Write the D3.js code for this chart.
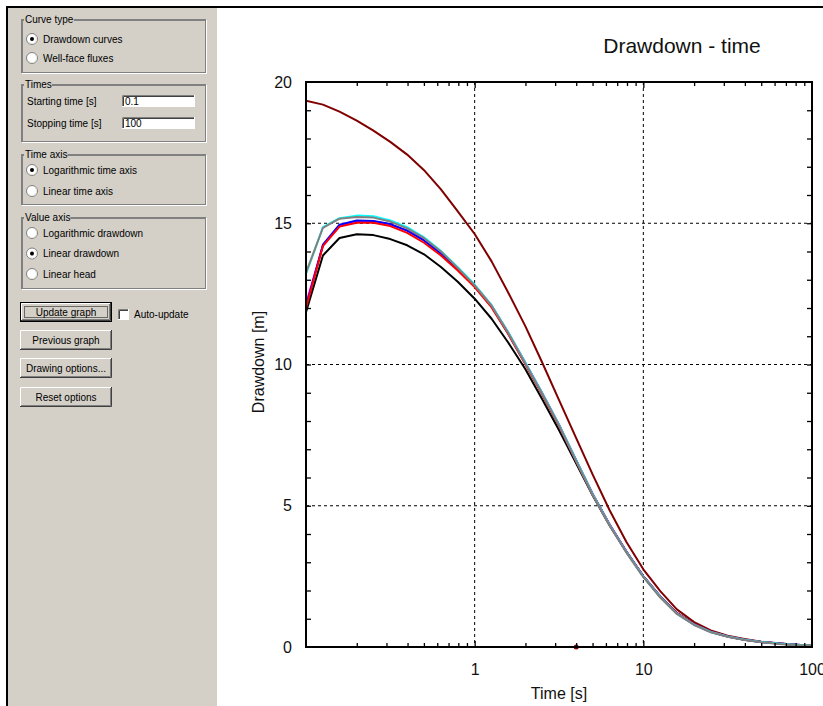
<!DOCTYPE html>
<html lang="en">
<head>
<meta charset="UTF-8">
<title>Drawdown - time</title>
<script src="https://d3js.org/d3.v7.min.js"></script>
<style>
    body { margin: 0; background: #fff; }
    svg { display: block; }
    .ui text { font-family: "Liberation Sans", Arial, sans-serif; font-size: 10px; fill: #000; }
    .chart text { font-family: "Liberation Sans", Arial, sans-serif; fill: #111; }
    .grid line { stroke: #000; stroke-width: 1; stroke-dasharray: 3,3; }
    .curve { fill: none; stroke-width: 2px; stroke-linejoin: round; }
</style>
</head>
<body>
<svg width="823" height="706"></svg>
<script>
// ---- data ----
const times = [0.1, 0.126, 0.158, 0.2, 0.251, 0.316, 0.398, 0.501, 0.631, 0.794,
               1, 1.26, 1.58, 2, 2.51, 3.16, 3.98, 5.01, 6.31, 7.94,
               10, 12.6, 15.8, 20, 25.1, 31.6, 39.8, 50.1, 63.1, 79.4, 100];

const darkRedSeries = [19.34, 19.2, 18.95, 18.63, 18.28, 17.88, 17.43, 16.88, 16.2, 15.42,
                       14.62, 13.65, 12.55, 11.35, 10.08, 8.75, 7.42, 6.1, 4.84, 3.72,
                       2.75, 1.98, 1.33, 0.88, 0.59, 0.4, 0.28, 0.19, 0.13, 0.08, 0.05];
const blackSeries   = [11.85, 13.86, 14.48, 14.61, 14.58, 14.44, 14.22, 13.9, 13.45, 12.93,
                       12.33, 11.62, 10.78, 9.83, 8.78, 7.68, 6.52, 5.36, 4.3, 3.37,
                       2.5, 1.78, 1.2, 0.8, 0.54, 0.37, 0.26, 0.18, 0.12, 0.08, 0.05];
const redSeries     = [12.0, 14.2, 14.88, 15.02, 15.02, 14.9, 14.66, 14.31, 13.86, 13.33,
                       12.74, 12.02, 11.08, 10.0, 8.95, 7.83, 6.6, 5.4, 4.32, 3.36,
                       2.5, 1.78, 1.2, 0.8, 0.54, 0.37, 0.26, 0.18, 0.12, 0.08, 0.05];
const blueSeries    = [12.05, 14.24, 14.95, 15.1, 15.08, 14.97, 14.74, 14.39, 13.92, 13.37,
                       12.77, 12.05, 11.1, 10.03, 8.97, 7.85, 6.62, 5.41, 4.33, 3.37,
                       2.5, 1.78, 1.2, 0.8, 0.54, 0.37, 0.26, 0.18, 0.12, 0.08, 0.05];
const magentaSeries = [12.15, 14.2, 14.9, 15.08, 15.07, 14.96, 14.74, 14.4, 13.94, 13.4,
                       12.8, 12.08, 11.13, 10.06, 9.0, 7.88, 6.64, 5.42, 4.34, 3.38,
                       2.51, 1.79, 1.2, 0.8, 0.54, 0.37, 0.26, 0.18, 0.12, 0.08, 0.05];
const cyanSeries    = [13.2, 14.86, 15.18, 15.27, 15.25, 15.1, 14.86, 14.5, 14.02, 13.44,
                       12.83, 12.1, 11.15, 10.06, 9.0, 7.88, 6.64, 5.41, 4.32, 3.36,
                       2.49, 1.77, 1.18, 0.79, 0.53, 0.37, 0.26, 0.18, 0.12, 0.08, 0.05];
const graySeries    = [13.25, 14.84, 15.16, 15.22, 15.2, 15.06, 14.82, 14.47, 14.0, 13.42,
                       12.8, 12.08, 11.12, 10.03, 8.97, 7.85, 6.6, 5.38, 4.3, 3.34,
                       2.47, 1.75, 1.17, 0.78, 0.52, 0.36, 0.25, 0.17, 0.11, 0.07, 0.05];

const markerPoint = { t: 4, s: 0 };

const yLabelTicks = [0, 5, 10, 15, 20];
const yMinorTicks = d3.range(1, 20);
const yGridTicks = [5, 10, 15];
const xLabelTicks = [1, 10, 100];
const xGridTicks = [1, 10];

// ---- panel texts ----
const curveTypeOptions = ["Drawdown curves", "Well-face fluxes"];
const timeAxisOptions = ["Logarithmic time axis", "Linear time axis"];
const valueAxisOptions = ["Logarithmic drawdown", "Linear drawdown", "Linear head"];
const timeFields = [["Starting time [s]", "0.1"], ["Stopping time [s]", "100"]];
const buttonLabels = ["Update graph", "Previous graph", "Drawing options...", "Reset options"];

const svg = d3.select("svg");

// ================= left control panel =================
const ui = svg.append("g").attr("class", "ui");
const face = "#d4d0c8";

ui.append("rect").attr("x", 8).attr("y", 8).attr("width", 209).attr("height", 698).attr("fill", face);
svg.append("rect").attr("x", 6).attr("y", 6).attr("width", 817).attr("height", 2).attr("fill", "#000");
svg.append("rect").attr("x", 6).attr("y", 6).attr("width", 2).attr("height", 700).attr("fill", "#000");

function groupBox(x, y, w, h, title) {
    const g = ui.append("g");
    g.append("rect").attr("x", x + 0.5).attr("y", y + 0.5).attr("width", w).attr("height", h)
        .attr("fill", "none").attr("stroke", "#808080");
    g.append("rect").attr("x", x + 1.5).attr("y", y + 1.5).attr("width", w).attr("height", h)
        .attr("fill", "none").attr("stroke", "#fff");
    g.append("rect").attr("x", x + 1.5).attr("y", y + 1.5).attr("width", w - 1).attr("height", h - 1)
        .attr("fill", "none").attr("stroke", "#808080");
    const t = g.append("text").attr("x", x + 4).attr("y", y + 4).text(title);
    const bb = t.node().getBBox();
    g.insert("rect", "text").attr("x", bb.x - 1).attr("y", y - 1).attr("width", bb.width + 1)
        .attr("height", 5).attr("fill", face);
}

function radio(cx, cy, label, checked) {
    const g = ui.append("g");
    g.append("circle").attr("cx", cx).attr("cy", cy).attr("r", 5.5).attr("fill", "#fff")
        .attr("stroke", "#808080");
    g.append("path").attr("d", d3.arc()({ innerRadius: 4, outerRadius: 5, startAngle: Math.PI * 0.25, endAngle: Math.PI * 1.25 }))
        .attr("transform", `translate(${cx},${cy})`).attr("fill", "#e8e6e0");
    if (checked) {
        g.append("circle").attr("cx", cx).attr("cy", cy).attr("r", 2).attr("fill", "#000");
    }
    g.append("text").attr("x", cx + 11).attr("y", cy).attr("dy", "0.35em").text(label);
}

function sunkenBox(x, y, w, h) {
    ui.append("rect").attr("x", x).attr("y", y).attr("width", w).attr("height", h).attr("fill", "#fff");
    ui.append("path").attr("d", `M${x + 0.5},${y + h}V${y + 0.5}H${x + w}`).attr("fill", "none").attr("stroke", "#808080");
    ui.append("path").attr("d", `M${x + 1.5},${y + h - 1}V${y + 1.5}H${x + w - 1}`).attr("fill", "none").attr("stroke", "#404040");
    ui.append("path").attr("d", `M${x},${y + h - 0.5}H${x + w - 0.5}V${y}`).attr("fill", "none").attr("stroke", "#fff");
}

function button(x, y, w, h, label, isDefault) {
    const g = ui.append("g");
    g.append("rect").attr("x", x).attr("y", y).attr("width", w).attr("height", h).attr("fill", face);
    let o = 0;
    if (isDefault) {
        g.append("rect").attr("x", x + 0.5).attr("y", y + 0.5).attr("width", w - 1).attr("height", h - 1)
            .attr("fill", "none").attr("stroke", "#000");
        o = 1;
    }
    g.append("path").attr("d", `M${x + o + 0.5},${y + h - o - 1}V${y + o + 0.5}H${x + w - o - 1}`)
        .attr("fill", "none").attr("stroke", "#fff");
    g.append("path").attr("d", `M${x + o},${y + h - o - 0.5}H${x + w - o - 0.5}V${y + o}`)
        .attr("fill", "none").attr("stroke", "#404040");
    g.append("path").attr("d", `M${x + o + 1},${y + h - o - 1.5}H${x + w - o - 1.5}V${y + o + 1}`)
        .attr("fill", "none").attr("stroke", "#808080");
    if (isDefault) {
        g.append("rect").attr("x", x + 4.5).attr("y", y + 4.5).attr("width", w - 9).attr("height", h - 9)
            .attr("fill", "none").attr("stroke", "#000").attr("stroke-dasharray", "1,1");
    }
    g.append("text").attr("x", x + w / 2).attr("y", y + h / 2).attr("dy", "0.35em")
        .attr("text-anchor", "middle").text(label);
}

groupBox(21, 19, 184, 53, "Curve type");
curveTypeOptions.forEach((d, i) => radio(32, 39 + i * 19, d, i === 0));

groupBox(21, 84, 184, 57, "Times");
timeFields.forEach((d, i) => {
    const yy = 95 + i * 22;
    ui.append("text").attr("x", 27).attr("y", yy + 6).attr("dy", "0.35em").text(d[0]);
    sunkenBox(122, yy, 73, 12);
    ui.append("text").attr("x", 125).attr("y", yy + 6).attr("dy", "0.35em").text(d[1]);
});

groupBox(21, 154, 184, 50, "Time axis");
timeAxisOptions.forEach((d, i) => radio(32, 170 + i * 21, d, i === 0));

groupBox(21, 217, 184, 71, "Value axis");
valueAxisOptions.forEach((d, i) => radio(32, 233 + i * 20.5, d, i === 1));

const buttonTops = [302, 330, 358, 387];
buttonLabels.forEach((d, i) => button(20, buttonTops[i], 92, 20, d, i === 0));

sunkenBox(118, 309, 11, 11);
ui.append("text").attr("x", 134).attr("y", 314).attr("dy", "0.35em").text("Auto-update");

// ================= chart =================
const chart = svg.append("g").attr("class", "chart");
const plot = { left: 306, right: 812, top: 82, bottom: 647 };

const x = d3.scaleLog().domain([0.1, 100]).range([plot.left, plot.right]);
const y = d3.scaleLinear().domain([0, 20]).range([plot.bottom, plot.top]);

chart.append("text").attr("x", 682).attr("y", 53).attr("text-anchor", "middle")
    .style("font-size", "21px").text("Drawdown - time");

chart.append("defs").append("clipPath").attr("id", "plotClip")
    .append("rect").attr("x", plot.left).attr("y", plot.top)
    .attr("width", plot.right - plot.left).attr("height", plot.bottom - plot.top);

// grid
const grid = chart.append("g").attr("class", "grid");
grid.selectAll(".vg").data(xGridTicks).join("line")
    .attr("x1", d => x(d)).attr("x2", d => x(d)).attr("y1", plot.top).attr("y2", plot.bottom);
grid.selectAll(".hg").data(yGridTicks).join("line").attr("class", "hg")
    .attr("y1", d => y(d)).attr("y2", d => y(d)).attr("x1", plot.left).attr("x2", plot.right);

// curves
const line = d3.line().x((d, i) => x(times[i])).y(d => y(d));
const curves = [
    [blackSeries, "#000000"],
    [darkRedSeries, "#800000"],
    [magentaSeries, "#ff00ff"],
    [blueSeries, "#0000ff"],
    [redSeries, "#ff0000"],
    [cyanSeries, "#00ffff"],
    [graySeries, "#808080"]
];
const curveG = chart.append("g").attr("clip-path", "url(#plotClip)");
curveG.selectAll("path").data(curves).join("path")
    .attr("class", "curve")
    .attr("stroke", d => d[1])
    .attr("d", d => line(d[0]));

chart.append("circle").attr("cx", x(markerPoint.t)).attr("cy", y(markerPoint.s))
    .attr("r", 2.5).attr("fill", "#800000");

// minor / inward ticks
const xMinor = x.ticks().filter(d => xLabelTicks.indexOf(d) < 0 && d > 0.1 && d < 100);
function styleTicks(g) {
    g.select(".domain").remove();
    g.selectAll("line").attr("stroke", "#000").attr("stroke-width", 1.3);
    g.selectAll("text").remove();
}
chart.append("g").attr("transform", `translate(0,${plot.bottom})`)
    .call(d3.axisTop(x).tickValues(xMinor).tickSize(4)).call(styleTicks);
chart.append("g").attr("transform", `translate(0,${plot.bottom})`)
    .call(d3.axisTop(x).tickValues(xGridTicks).tickSize(6)).call(styleTicks);
chart.append("g").attr("transform", `translate(0,${plot.top})`)
    .call(d3.axisBottom(x).tickValues(xMinor).tickSize(4)).call(styleTicks);
chart.append("g").attr("transform", `translate(0,${plot.top})`)
    .call(d3.axisBottom(x).tickValues(xGridTicks).tickSize(6)).call(styleTicks);
chart.append("g").attr("transform", `translate(${plot.left},0)`)
    .call(d3.axisRight(y).tickValues(yMinorTicks).tickSize(5)).call(styleTicks);
chart.append("g").attr("transform", `translate(${plot.right},0)`)
    .call(d3.axisLeft(y).tickValues(yMinorTicks).tickSize(5)).call(styleTicks);

// frame
chart.append("rect").attr("x", plot.left).attr("y", plot.top)
    .attr("width", plot.right - plot.left).attr("height", plot.bottom - plot.top)
    .attr("fill", "none").attr("stroke", "#000").attr("stroke-width", 2);

// tick labels
function styleLabels(g) {
    g.select(".domain").remove();
    g.selectAll("line").remove();
    g.selectAll("text").style("font-size", "16px").attr("fill", "#111");
}
chart.append("g").attr("transform", `translate(${plot.left},0)`)
    .call(d3.axisLeft(y).tickValues(yLabelTicks).tickSize(0).tickPadding(14).tickFormat(d3.format("d")))
    .call(styleLabels);
chart.append("g").attr("transform", `translate(0,${plot.bottom})`)
    .call(d3.axisBottom(x).tickValues(xLabelTicks).tickSize(0).tickPadding(17).tickFormat(d3.format("d")))
    .call(styleLabels);

// axis titles
chart.append("text").attr("x", (plot.left + plot.right) / 2).attr("y", 699)
    .attr("text-anchor", "middle").style("font-size", "16px").text("Time [s]");
chart.append("text").attr("transform", "translate(258,362) rotate(-90)")
    .attr("text-anchor", "middle").attr("dy", "0.35em").style("font-size", "16px").text("Drawdown [m]");
</script>
</body>
</html>
